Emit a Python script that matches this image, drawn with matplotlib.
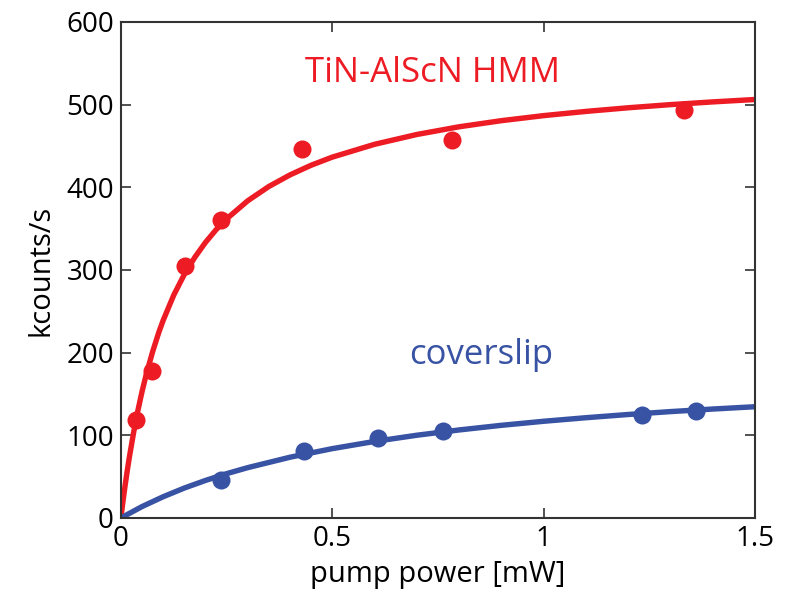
import matplotlib
matplotlib.use("Agg")
import matplotlib.pyplot as plt

# measured points
hmm_p = [0.035, 0.073, 0.151, 0.237, 0.429, 0.782, 1.331]
hmm_c = [119, 178, 305, 360, 446, 457, 493]
cov_p = [0.236, 0.433, 0.609, 0.761, 1.233, 1.361]
cov_c = [46, 81, 97, 105, 125, 130]

# fitted curves
hmm_fit_p = [0, 0.005, 0.01, 0.015, 0.02, 0.03, 0.04, 0.05, 0.06, 0.075, 0.09, 0.1, 0.125,
             0.15, 0.175, 0.2, 0.225, 0.25, 0.3, 0.35, 0.4, 0.45, 0.5, 0.6, 0.7, 0.8,
             0.9, 1.0, 1.1, 1.2, 1.3, 1.4, 1.5]
hmm_fit_c = [0, 20.4, 39.3, 56.9, 73.3, 103, 129.4, 152.8, 173.7, 201, 225, 239, 269.6,
             294.6, 315.4, 333.3, 348.6, 361.8, 383.7, 401, 415, 426.7, 436.5, 452, 463.9,
             473.2, 480.6, 486.7, 491.8, 496.2, 500, 503.3, 506.2]
cov_fit_p = [0, 0.05, 0.1, 0.15, 0.2, 0.25, 0.3, 0.4, 0.5, 0.6, 0.7, 0.8, 0.9, 1.0,
             1.1, 1.2, 1.3, 1.4, 1.5]
cov_fit_c = [0, 13.8, 25.7, 36.2, 45.4, 53.6, 60.9, 73.5, 83.9, 92.6, 100.1, 106.5,
             112.1, 117, 121.3, 125.2, 128.7, 131.8, 134.6]

red = "#ED1C24"
blue = "#3953A4"

plt.rcParams['font.family'] = ['Open Sans', 'DejaVu Sans']

fig = plt.figure(figsize=(7.9, 5.93), dpi=100)
ax = fig.add_axes([0.153, 0.1265, 0.803, 0.8365])

ax.plot(hmm_fit_p, hmm_fit_c, color=red, lw=3.9, solid_capstyle='round', solid_joinstyle='round')
ax.plot(cov_fit_p, cov_fit_c, color=blue, lw=3.9, solid_capstyle='round', solid_joinstyle='round')
ax.plot(hmm_p, hmm_c, 'o', color=red, ms=13, mec='none')
ax.plot(cov_p, cov_c, 'o', color=blue, ms=13, mec='none')

ax.text(0.736, 538, "TiN-AlScN HMM", color=red, fontsize=25, ha='center', va='center')
ax.text(0.852, 197, "coverslip", color=blue, fontsize=25, ha='center', va='center')

ax.set_xlim(0, 1.5)
ax.set_ylim(0, 600)
ax.set_xticks([0, 0.5, 1, 1.5])
ax.set_xticklabels(["0", "0.5", "1", "1.5"])
ax.set_yticks([0, 100, 200, 300, 400, 500, 600])
ax.tick_params(direction='in', length=7, width=1.2, top=True, right=True,
               labelsize=20, color='#333333', pad=5)
for s in ax.spines.values():
    s.set_linewidth(1.5)
    s.set_color('#333333')

ax.set_xlabel("pump power [mW]", fontsize=21, labelpad=5)
ax.set_ylabel("kcounts/s", fontsize=21, labelpad=8)

fig.savefig("out.png", dpi=100)
